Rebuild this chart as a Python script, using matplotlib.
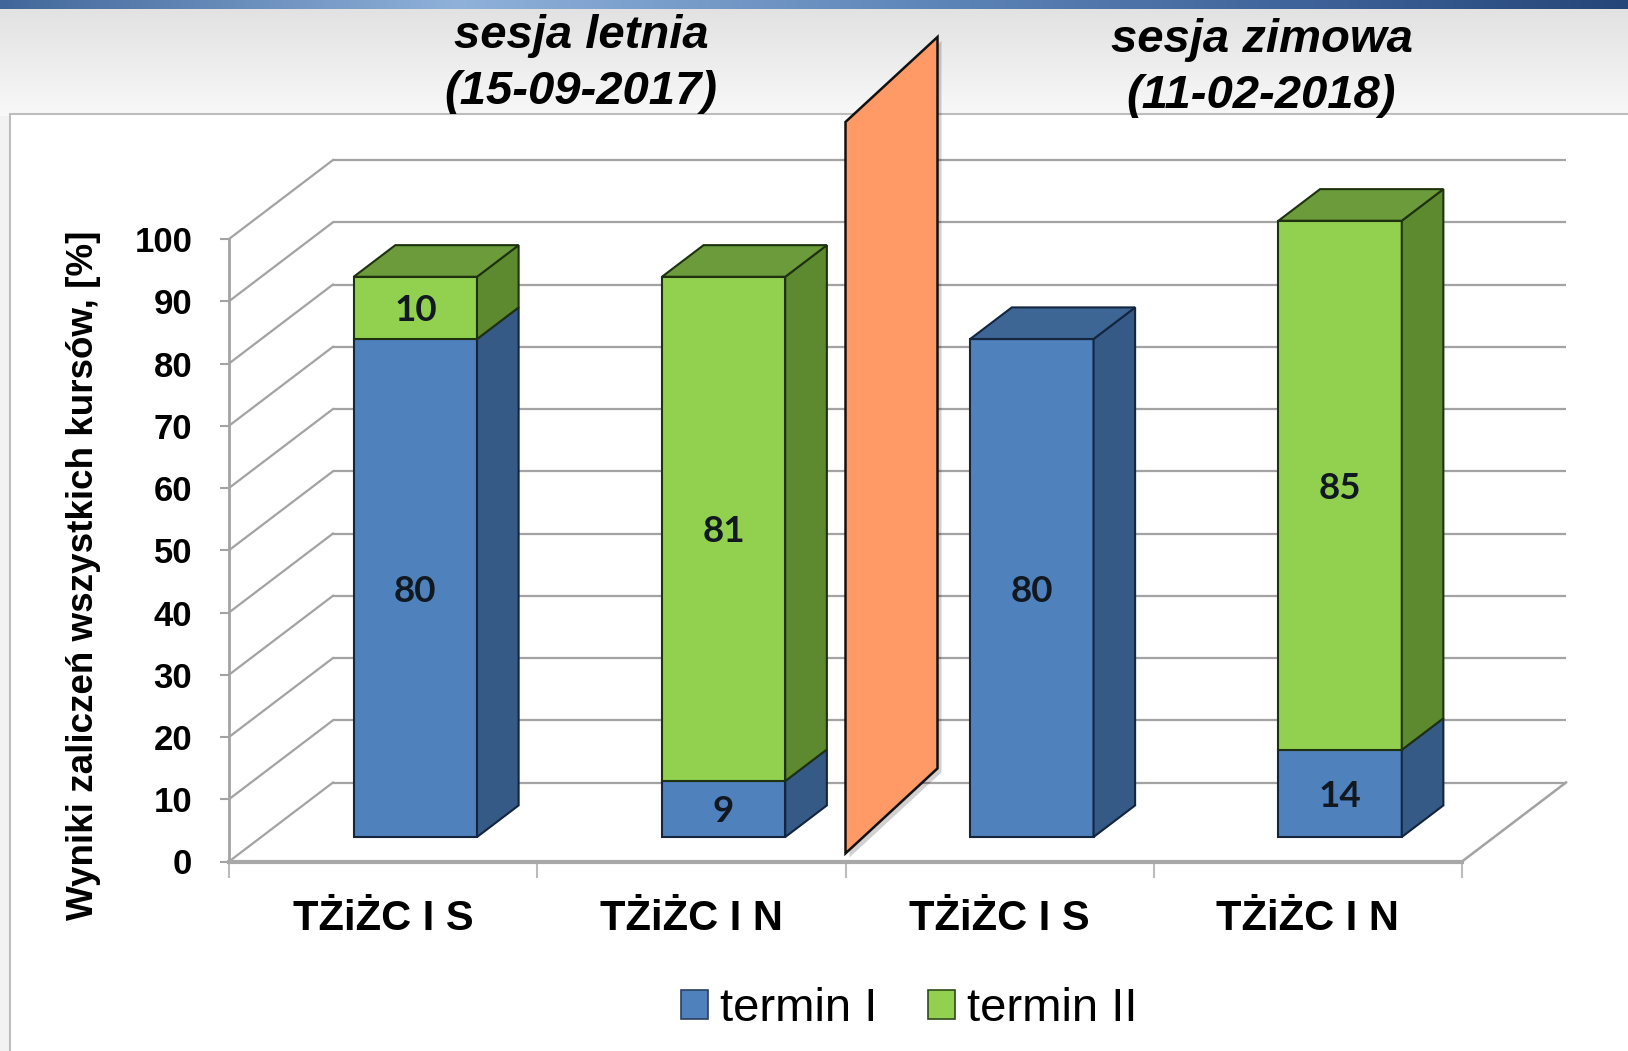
import matplotlib
matplotlib.use('Agg')
import matplotlib.pyplot as plt
import numpy as np
from matplotlib.patches import Polygon, Rectangle, Patch
from matplotlib.lines import Line2D
from matplotlib.transforms import ScaledTranslation
from matplotlib.colors import to_rgb

# ---------------- data ----------------
categories = ['TŻiŻC I S', 'TŻiŻC I N', 'TŻiŻC I S', 'TŻiŻC I N']
termin_I = [80, 9, 80, 14]
termin_II = [10, 81, 0, 85]
series_names = ['termin I', 'termin II']
session_titles = ['sesja letnia', 'sesja zimowa']
session_dates = ['(15-09-2017)', '(11-02-2018)']
y_ticks = [0, 10, 20, 30, 40, 50, 60, 70, 80, 90, 100]
y_label = 'Wyniki zaliczeń wszystkich kursów, [%]'

# ---------------- style ----------------
plt.rcParams['font.family'] = ['Liberation Sans', 'DejaVu Sans']
W, H, DPI = 1628, 1051, 100
BLUE_F, BLUE_S, BLUE_T, BLUE_E = '#4F81BD', '#355A86', '#3D6694', '#13253F'
GREEN_F, GREEN_S, GREEN_T, GREEN_E = '#92D050', '#5E8A2F', '#6B9B3A', '#1E3210'
GRID = '#A3A3A3'
DEPTH = np.array([104.0, 79.0])      # px, full depth of the pseudo-3D box
D0, D1 = 0.31, 0.71                  # bar depth span (fraction of DEPTH)
BAR_W = 0.4

fig = plt.figure(figsize=(W / DPI, H / DPI), dpi=DPI)
fig.patch.set_facecolor('#F2F2F2')

# ---------------- background ----------------
bg = fig.add_axes([0, 0, 1, 1], zorder=-10)
bg.set_xlim(0, W)
bg.set_ylim(H, 0)
bg.axis('off')
g = np.linspace(0, 1, 60)[:, None, None]
c_top, c_bot = np.array(to_rgb('#E2E2E2')), np.array(to_rgb('#F8F8F8'))
bg.imshow(c_top * (1 - g) + c_bot * g, extent=(0, W, 116, 8), aspect='auto',
          interpolation='bilinear')
stops_x = [0.0, 0.28, 0.55, 0.8, 1.0]
stops_c = ['#41679A', '#8FB1DA', '#6289BB', '#3E639A', '#254678']
xs = np.linspace(0, 1, 400)
strip = np.stack([np.interp(xs, stops_x, [to_rgb(c)[k] for c in stops_c]) for k in range(3)], axis=-1)
bg.imshow(strip[None, :, :], extent=(0, W, 9, 0), aspect='auto', interpolation='bilinear')
bg.add_patch(Rectangle((10, 114), W, H, facecolor='white', edgecolor='#BDBDBD', lw=1.5))

# ---------------- main axes (front plane) ----------------
ax = fig.add_axes([229 / W, 1 - 861.5 / H, (1462 - 229) / W, (861.5 - 239) / H])
ax.set_xlim(-0.5, 3.5)
ax.set_ylim(0, 100)
ax.patch.set_visible(False)
for s in ['top', 'right']:
    ax.spines[s].set_visible(False)
ax.spines['left'].set_color(GRID)
ax.spines['left'].set_linewidth(2)
ax.spines['bottom'].set_color('#A8A8A8')
ax.spines['bottom'].set_linewidth(3)
ax.set_yticks(y_ticks)
ax.set_yticklabels([str(v) for v in y_ticks])
ax.tick_params(axis='y', length=6.5, width=1.5, color=GRID, pad=20, labelsize=25)
for t in ax.get_yticklabels():
    t.set_fontweight('bold')
ax.set_xticks(np.arange(-0.5, 4.0, 1.0))
ax.set_xticklabels([])
ax.tick_params(axis='x', which='major', length=11.5, width=1.5, color='#BBBBBB')
ax.set_xticks(np.arange(len(categories)), minor=True)
ax.set_xticklabels(categories, minor=True)
ax.tick_params(axis='x', which='minor', length=0, pad=27, labelsize=30)
for t in ax.get_xticklabels(minor=True):
    t.set_fontweight('bold')

to_fig = fig.transFigure.inverted()


def P(x, y, d):
    return ax.transData.transform((x, y)) + d * DEPTH


def poly(pts, **kw):
    p = Polygon(to_fig.transform(np.array(pts)), closed=True,
                transform=fig.transFigure, clip_on=False, **kw)
    ax.add_patch(p)
    return p


def seg(p, q, **kw):
    a, b = to_fig.transform(np.array([p, q]))
    ln = Line2D([a[0], b[0]], [a[1], b[1]], transform=fig.transFigure, clip_on=False, **kw)
    ax.add_line(ln)


off_back = ax.transData + ScaledTranslation(DEPTH[0] / DPI, DEPTH[1] / DPI, fig.dpi_scale_trans)
off_bar = ax.transData + ScaledTranslation(D0 * DEPTH[0] / DPI, D0 * DEPTH[1] / DPI, fig.dpi_scale_trans)

# back wall + left wall gridlines
ax.hlines(y_ticks, -0.5, 3.5, colors=GRID, lw=1.6, transform=off_back, clip_on=False, zorder=1)
for v in y_ticks:
    seg(P(-0.5, v, 0), P(-0.5, v, 1), color=GRID, lw=1.6, zorder=1)
seg(P(3.5, 0, 0), P(3.5, 0, 1), color=GRID, lw=1.8, zorder=1)

# ---------------- bars ----------------
x = np.arange(len(categories))
bottoms_II = np.array(termin_I)
series = [(termin_I, np.zeros(len(x)), BLUE_F, BLUE_S, BLUE_T, BLUE_E),
          (termin_II, bottoms_II, GREEN_F, GREEN_S, GREEN_T, GREEN_E)]
for vals, bots, cf, cs, ct, ce in series:
    vals = np.array(vals)
    ax.bar(x, vals, bottom=bots, width=BAR_W, color=cf, edgecolor=ce, lw=1.5,
           transform=off_bar, clip_on=False, zorder=3)
    for xi, v, b in zip(x, vals, bots):
        if v <= 0:
            continue
        xr = xi + BAR_W / 2
        poly([P(xr, b, D0), P(xr, b, D1), P(xr, b + v, D1), P(xr, b + v, D0)],
             facecolor=cs, edgecolor=ce, lw=1.5, zorder=3)
        ax.text(xi, b + v / 2, str(v), transform=off_bar, ha='center', va='center_baseline',
                fontsize=26.5, fontweight='bold', family=['Lato', 'DejaVu Sans'],
                color='#111820', zorder=5)

# tops of stacks
totals = np.array(termin_I) + np.array(termin_II)
for xi, tot, t2 in zip(x, totals, termin_II):
    ct, ce = (GREEN_T, GREEN_E) if t2 > 0 else (BLUE_T, BLUE_E)
    xl, xr = xi - BAR_W / 2, xi + BAR_W / 2
    poly([P(xl, tot, D0), P(xr, tot, D0), P(xr, tot, D1), P(xl, tot, D1)],
         facecolor=ct, edgecolor=ce, lw=1.5, zorder=3)

# ---------------- divider between sessions ----------------
div_x, div_y0, div_y1 = 1.5, 1.3, 118.8
shift = np.array([92.0, 85.0])
a0, a1 = ax.transData.transform((div_x, div_y0)), ax.transData.transform((div_x, div_y1))
sh = np.array([4.0, -4.0])
poly([a0 + sh, a1 + sh, a1 + shift + sh, a0 + shift + sh], facecolor='#000000',
     edgecolor='none', alpha=0.18, zorder=6)
poly([a0, a1, a1 + shift, a0 + shift], facecolor='#FF9966', edgecolor='#111111',
     lw=1.8, zorder=7)

# ---------------- texts ----------------
title_pos = [(581, 36, 92), (1261.5, 39.5, 96)]
for (tx, ty1, ty2), t1, t2 in zip(title_pos, session_titles, session_dates):
    fig.text(tx / W, 1 - ty1 / H, t1, ha='center', va='center', fontsize=34,
             fontweight='bold', fontstyle='italic', zorder=10)
    fig.text(tx / W, 1 - ty2 / H, t2, ha='center', va='center', fontsize=34,
             fontweight='bold', fontstyle='italic', zorder=10)

fig.text(84 / W, 1 - 575 / H, y_label, rotation=90, ha='center', va='center',
         fontsize=26.5, fontweight='bold')

handles = [Patch(facecolor=BLUE_F, edgecolor='#2A3F5F', lw=1.2),
           Patch(facecolor=GREEN_F, edgecolor='#2F4A1A', lw=1.2)]
fig.legend(handles, series_names, loc='center', bbox_to_anchor=(909.5 / W, 1 - 1009 / H),
           ncol=2, frameon=False, fontsize=34, handlelength=0.57, handleheight=0.57,
           handletextpad=0.25, columnspacing=1.08, borderpad=0.1)

fig.savefig('out.png', dpi=DPI)
